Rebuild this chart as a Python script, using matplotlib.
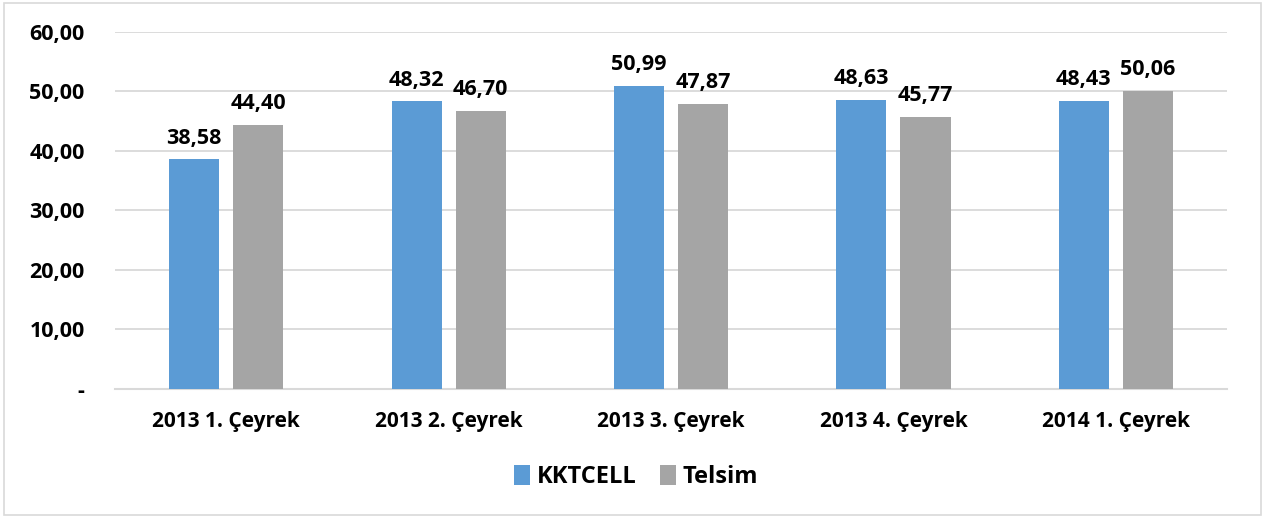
import matplotlib.pyplot as plt
import matplotlib.ticker as mticker
from matplotlib.patches import Rectangle
import numpy as np

categories = ["2013 1. Çeyrek", "2013 2. Çeyrek", "2013 3. Çeyrek", "2013 4. Çeyrek", "2014 1. Çeyrek"]
kktcell = [38.58, 48.32, 50.99, 48.63, 48.43]
telsim = [44.40, 46.70, 47.87, 45.77, 50.06]

plt.rcParams['font.family'] = ['Open Sans', 'DejaVu Sans']
plt.rcParams['font.weight'] = 'bold'

fig = plt.figure(figsize=(12.65, 5.17), dpi=100)
ax = fig.add_axes([0.091, 0.2476, 0.879, 0.6906])

x = np.arange(len(categories))
w = 0.225
off = 0.144
b1 = ax.bar(x - off, kktcell, w, color="#5B9BD5", label="KKTCELL", zorder=3)
b2 = ax.bar(x + off, telsim, w, color="#A5A5A5", label="Telsim", zorder=3)

fmt = lambda v: f"{v:.2f}".replace(".", ",")
for bars, vals in ((b1, kktcell), (b2, telsim)):
    for r, v in zip(bars, vals):
        ax.text(r.get_x() + r.get_width() / 2, v + 1.8, fmt(v), ha="center", va="bottom",
                fontsize=15.5, fontweight="bold")

ax.set_xlim(-0.5, len(categories) - 0.5)
ax.set_ylim(0, 60)
ax.yaxis.set_major_locator(mticker.MultipleLocator(10))
ax.set_xticks(x)
ax.set_xticklabels(categories, fontsize=15, fontweight="bold")
ax.set_yticklabels(ax.get_yticklabels(), fontsize=15.5, fontweight="bold")
ax.yaxis.set_major_formatter(mticker.FuncFormatter(lambda v, p: "-" if v == 0 else fmt(v)))
ax.tick_params(axis="both", length=0)
ax.tick_params(axis="x", pad=16)
ax.tick_params(axis="y", pad=22)
ax.grid(axis="y", color="#D9D9D9", linewidth=1.3, zorder=0)
for s in ("top", "right", "left"):
    ax.spines[s].set_visible(False)
ax.spines["bottom"].set_color("#D9D9D9")
ax.spines["bottom"].set_linewidth(1.5)

fig.legend(loc="center", bbox_to_anchor=(0.503, 0.077), ncol=2, frameon=False,
           prop={"size": 17, "weight": "bold"}, handlelength=0.65, handleheight=0.95,
           handletextpad=0.3, columnspacing=1.0)

fig.patches.append(Rectangle((0.003, 0.004), 0.994, 0.99, transform=fig.transFigure,
                             fill=False, edgecolor="#D9D9D9", linewidth=1.2))

fig.savefig("out.png", dpi=100)
